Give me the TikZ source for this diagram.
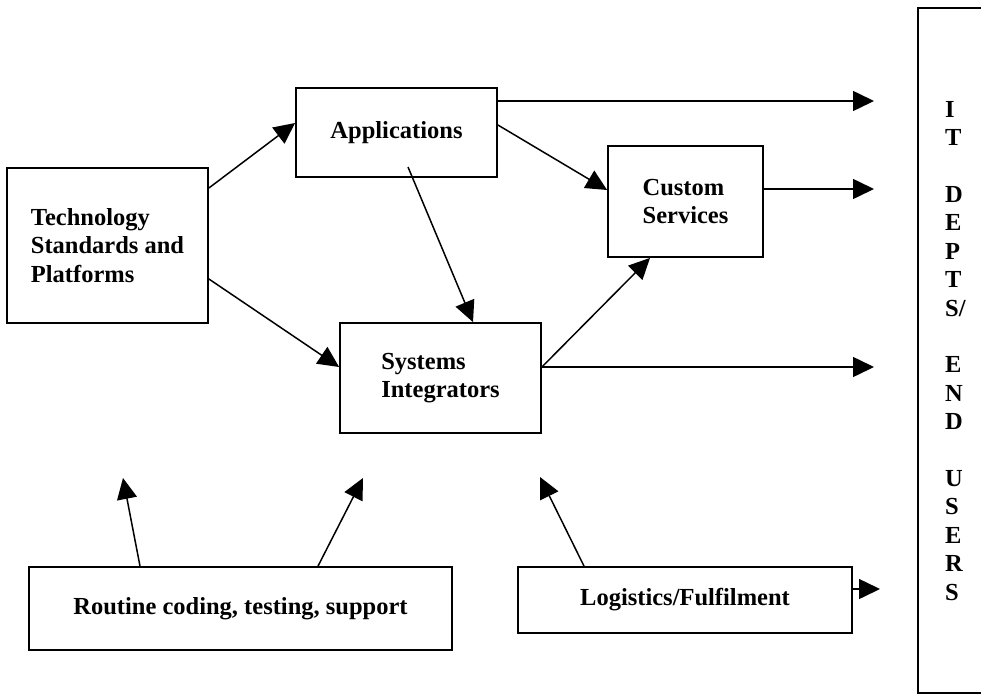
\documentclass[tikz,border=0pt]{standalone}
\usepackage{fontspec}
\setmainfont{Liberation Serif}
\usetikzlibrary{arrows.meta}

\begin{document}
\begin{tikzpicture}[x=1pt,y=-1pt,
  txt/.style={font=\bfseries\fontsize{24.5}{28.4}\selectfont},
  box/.style={draw, line width=1.8pt, inner sep=0pt, txt, align=left},
  arr/.style={line width=1.5pt, -{Triangle[length=21pt,width=20pt]}}]

\useasboundingbox (0,0) rectangle (981,695);

% boxes
\node[box, minimum width=201pt, minimum height=155pt] (tech) at (107.5,245.5)
  {Technology\\Standards and\\Platforms};
\node[box, minimum width=201pt, minimum height=89pt] (apps) at (396.5,132.5)
  {Applications};
\node[box, minimum width=201pt, minimum height=110pt] (sys) at (440.5,378)
  {Systems\\Integrators};
\node[box, minimum width=155pt, minimum height=111pt] (cust) at (685.5,201.5)
  {Custom\\Services};
\node[box, minimum width=423pt, minimum height=83pt] (routine) at (240.5,608.5)
  {Routine coding, testing, support};
\node[box, minimum width=334pt, minimum height=66pt] (logi) at (685,600)
  {Logistics/Fulfilment};

% users column
\node[draw, line width=1.8pt, minimum width=65pt, minimum height=685pt,
  inner sep=0pt] (users) at (950.5,350.5) {};
\node[txt, align=left, anchor=north west, inner sep=0pt] (userstext) at (945,101)
  {I\\T\\[28.4pt]D\\E\\P\\T\\S/\\[28.4pt]E\\N\\D\\[28.4pt]U\\S\\E\\R\\S};

% free arrow ends
\coordinate (o1) at (874,101);
\coordinate (o2) at (874,189);
\coordinate (o3) at (874,367);
\coordinate (o4) at (880,589);
\coordinate (u1) at (123,478);
\coordinate (u2) at (363,478);
\coordinate (u3) at (540,477);
\coordinate (a2) at (408,167);

% connectors
\draw[arr] (tech.east |- 0,188) -- (apps.west |- 0,123);
\draw[arr] (tech.east |- 0,279) -- (sys.west |- 0,367);
\draw[arr] (apps.east |- 0,101) -- (o1);
\draw[arr] (apps.east |- 0,125) -- (cust.west |- 0,190);
\draw[arr] (a2) -- (sys.north -| 473,0);
\draw[arr] (sys.east |- 0,367) -- (cust.south -| 650,0);
\draw[arr] (sys.east |- 0,367) -- (o3);
\draw[arr] (cust.east |- 0,189) -- (o2);
\draw[arr] (routine.north -| 140,0) -- (u1);
\draw[arr] (routine.north -| 318,0) -- (u2);
\draw[arr] (logi.north -| 584,0) -- (u3);
\draw[arr] (logi.east |- 0,589) -- (o4);

\end{tikzpicture}
\end{document}
